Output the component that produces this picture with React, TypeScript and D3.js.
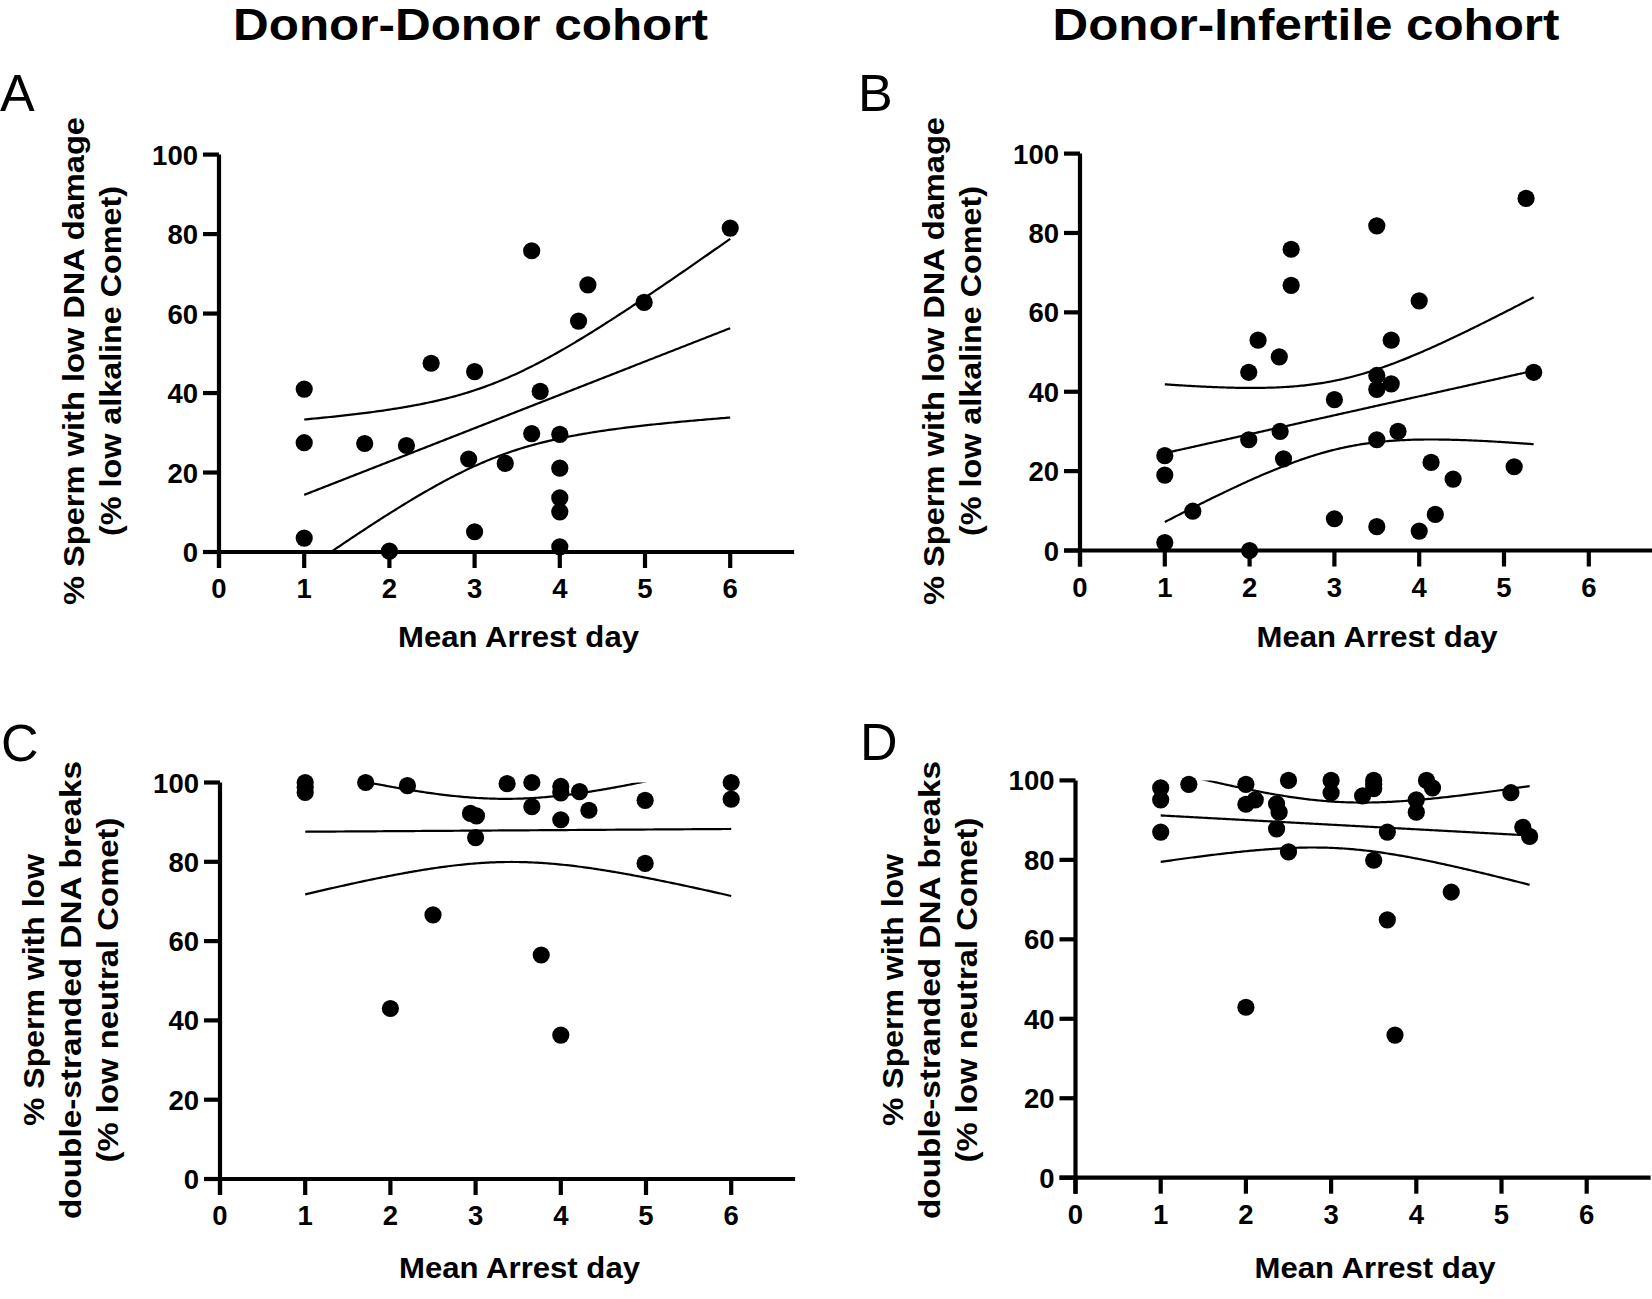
import React from 'react';
import * as d3 from 'd3';

// ---------- data ----------
const xTicks = [0, 1, 2, 3, 4, 5, 6];
const yTicks = [0, 20, 40, 60, 80, 100];
const xDomain = [0, 6.75];
const yDomain = [0, 100];

const cohortTitles = ['Donor-Donor cohort', 'Donor-Infertile cohort'];
const panelLetters = ['A', 'B', 'C', 'D'];
const xAxisTitle = 'Mean Arrest day';
const alkalineLabel = ['% Sperm with low DNA damage', '(% low alkaline Comet)'];
const neutralLabel = ['% Sperm with low', 'double-stranded DNA breaks', '(% low neutral Comet)'];

const aX = [1, 1, 1, 1.71, 2, 2.2, 2.49, 2.93, 3, 3, 3.36, 3.67, 3.67, 3.77, 4, 4, 4, 4, 4, 4.22, 4.33, 4.99, 6];
const aY = [41, 27.5, 3.5, 27.3, 0.2, 26.8, 47.5, 23.4, 45.4, 5.1, 22.3, 75.8, 29.8, 40.4, 29.6, 21.1, 13.6, 10.1, 1.3, 58.1, 67.2, 62.8, 81.5];

const bX = [1, 1, 1, 1.33, 1.99, 1.99, 2, 2.1, 2.35, 2.36, 2.4, 2.49, 2.49, 3, 3, 3.5, 3.5, 3.5, 3.5, 3.5, 3.67, 3.67, 3.75, 4, 4, 4.14, 4.19, 4.4, 5.12, 5.26, 5.35];
const bY = [23.9, 19, 2, 9.9, 27.9, 44.9, 0, 53, 48.8, 30, 23.1, 75.9, 66.8, 38, 8, 81.8, 44.1, 40.6, 27.9, 6, 53, 42, 30, 62.9, 4.9, 22.2, 9.1, 18, 21.1, 88.7, 44.9];

const cX = [1, 1, 1, 1.71, 2, 2.2, 2.5, 2.94, 3, 3.01, 3.37, 3.66, 3.66, 3.77, 4, 4, 4, 4, 4.22, 4.33, 4.99, 4.99, 6, 6];
const cY = [100, 98.8, 97.5, 100, 43, 99.2, 66.6, 92.2, 86.1, 91.6, 99.7, 100, 93.9, 56.5, 99, 97.4, 90.6, 36.3, 97.7, 93, 95.5, 79.6, 100, 95.8];

const dX = [1, 1, 1, 1.33, 2, 2, 2, 2.11, 2.36, 2.39, 2.36, 2.5, 2.5, 3, 3, 3.37, 3.5, 3.5, 3.5, 3.5, 3.66, 3.66, 3.75, 4, 4, 4.12, 4.19, 4.41, 5.11, 5.25, 5.33];
const dY = [98.1, 95.1, 87, 99, 99, 94, 42.9, 95.1, 94.1, 92, 87.8, 100, 82, 100, 96.9, 96.1, 100, 99, 97.9, 79.9, 87, 64.9, 35.9, 95.1, 92, 100, 98.1, 71.9, 96.9, 88.2, 85.9];

// ---------- stats ----------
function t975(df: number) {
  const z = 1.959964;
  const z3 = z ** 3, z5 = z ** 5, z7 = z ** 7, z9 = z ** 9;
  const g1 = (z3 + z) / 4;
  const g2 = (5 * z5 + 16 * z3 + 3 * z) / 96;
  const g3 = (3 * z7 + 19 * z5 + 17 * z3 - 15 * z) / 384;
  const g4 = (79 * z9 + 776 * z7 + 1482 * z5 - 1920 * z3 - 945 * z) / 92160;
  return z + g1 / df + g2 / df ** 2 + g3 / df ** 3 + g4 / df ** 4;
}

function fitBand(xs: number[], ys: number[]) {
  const n = xs.length;
  const mx = d3.mean(xs) as number;
  const my = d3.mean(ys) as number;
  let sxx = 0, sxy = 0;
  xs.forEach((x, i) => { sxx += (x - mx) ** 2; sxy += (x - mx) * (ys[i] - my); });
  const b = sxy / sxx;
  const a = my - b * mx;
  let sse = 0;
  xs.forEach((x, i) => { sse += (ys[i] - a - b * x) ** 2; });
  const s = Math.sqrt(sse / (n - 2));
  const t = t975(n - 2);
  const [lo, hi] = d3.extent(xs) as [number, number];
  return d3.range(0, 201).map((i) => {
    const x = lo + ((hi - lo) * i) / 200;
    const yh = a + b * x;
    const h = t * s * Math.sqrt(1 / n + (x - mx) ** 2 / sxx);
    return { x, yh, lower: yh - h, upper: yh + h };
  });
}

// ---------- layout ----------
const FONT = "'Liberation Sans', Arial, Helvetica, sans-serif";

type PanelCfg = {
  id: string;
  letter: string;
  letterX: number;
  letterY: number;
  xs: number[];
  ys: number[];
  x0: number;
  x1: number;
  y0: number;
  y1: number;
  yLabel: string[];
  yLabelX: number[];
  yLabelLen: number[];
  yLabelCY: number;
  xLabelCX: number;
  xLabelY: number;
};

const panels: PanelCfg[] = [
  {
    id: 'A', letter: panelLetters[0], letterX: 0, letterY: 111, xs: aX, ys: aY,
    x0: 219, x1: 219 + 6.75 * 85.2, y0: 552, y1: 154.6,
    yLabel: alkalineLabel, yLabelX: [84, 121], yLabelLen: [488, 350], yLabelCY: 361,
    xLabelCX: 518.5, xLabelY: 647,
  },
  {
    id: 'B', letter: panelLetters[1], letterX: 858, letterY: 111, xs: bX, ys: bY,
    x0: 1080, x1: 1080 + 6.75 * 84.8, y0: 550.5, y1: 153.6,
    yLabel: alkalineLabel, yLabelX: [944, 981], yLabelLen: [488, 350], yLabelCY: 361,
    xLabelCX: 1377, xLabelY: 647,
  },
  {
    id: 'C', letter: panelLetters[2], letterX: 1, letterY: 761, xs: cX, ys: cY,
    x0: 220, x1: 220 + 6.75 * 85.2, y0: 1179, y1: 782.5,
    yLabel: neutralLabel, yLabelX: [44, 81, 118], yLabelLen: [272, 458, 345], yLabelCY: 990,
    xLabelCX: 519.5, xLabelY: 1278,
  },
  {
    id: 'D', letter: panelLetters[3], letterX: 860, letterY: 760, xs: dX, ys: dY,
    x0: 1075.5, x1: 1075.5 + 6.75 * 85.2, y0: 1177.7, y1: 780.4,
    yLabel: neutralLabel, yLabelX: [903, 940, 977], yLabelLen: [272, 458, 345], yLabelCY: 990,
    xLabelCX: 1375, xLabelY: 1278,
  },
];

const TICK = 16;
const AXIS_W = 4.2;
const DIGIT_W = 15.3;

function Panel({ p }: { p: PanelCfg }) {
  const x = d3.scaleLinear().domain(xDomain).range([p.x0, p.x1]);
  const y = d3.scaleLinear().domain(yDomain).range([p.y0, p.y1]);
  const band = fitBand(p.xs, p.ys);
  const mk = (key: 'yh' | 'lower' | 'upper') =>
    d3.line<any>().x((d) => x(d.x)).y((d) => y(d[key]))(band) || '';
  const clipId = `clip-${p.id}`;
  return (
    <g>
      <text x={p.letterX} y={p.letterY} fontFamily={FONT} fontSize={52} fill="#000">
        {p.letter}
      </text>
      <defs>
        <clipPath id={clipId}>
          <rect x={p.x0} y={p.y1} width={p.x1 - p.x0} height={p.y0 - p.y1} />
        </clipPath>
      </defs>
      {/* fit lines */}
      <g clipPath={`url(#${clipId})`} fill="none" stroke="#000" strokeWidth={2.2}>
        <path d={mk('yh')} />
        <path d={mk('lower')} />
        <path d={mk('upper')} />
      </g>
      {/* axes */}
      <g stroke="#000" strokeWidth={AXIS_W}>
        <line x1={p.x0} x2={p.x0} y1={p.y1} y2={p.y0 + TICK} />
        <line x1={p.x0 - TICK} x2={p.x1} y1={p.y0} y2={p.y0} />
        {yTicks.map((t) => (
          <line key={`yt${t}`} x1={p.x0 - TICK} x2={p.x0} y1={y(t)} y2={y(t)} />
        ))}
        {xTicks.map((t) => (
          <line key={`xt${t}`} x1={x(t)} x2={x(t)} y1={p.y0} y2={p.y0 + TICK} />
        ))}
      </g>
      {/* tick labels */}
      <g fontFamily={FONT} fontWeight="bold" fontSize={28} fill="#000">
        {yTicks.map((t) => (
          <text key={`yl${t}`} x={p.x0 - 21} y={y(t)} dy="0.36em" textAnchor="end"
            textLength={String(t).length * DIGIT_W} lengthAdjust="spacingAndGlyphs">
            {t}
          </text>
        ))}
        {xTicks.map((t) => (
          <text key={`xl${t}`} x={x(t)} y={p.y0 + 46} textAnchor="middle"
            textLength={String(t).length * DIGIT_W} lengthAdjust="spacingAndGlyphs">
            {t}
          </text>
        ))}
      </g>
      {/* points */}
      <g fill="#000">
        {p.xs.map((xv, i) => (
          <circle key={i} cx={x(xv)} cy={y(p.ys[i])} r={8.6} />
        ))}
      </g>
      {/* axis titles */}
      <text
        x={p.xLabelCX}
        y={p.xLabelY}
        textAnchor="middle"
        fontFamily={FONT}
        fontWeight="bold"
        fontSize={30}
        textLength={241}
        lengthAdjust="spacingAndGlyphs"
      >
        {xAxisTitle}
      </text>
      {p.yLabel.map((line, i) => (
        <text
          key={i}
          transform={`translate(${p.yLabelX[i]},${p.yLabelCY}) rotate(-90)`}
          textAnchor="middle"
          fontFamily={FONT}
          fontWeight="bold"
          fontSize={30}
          textLength={p.yLabelLen[i]}
          lengthAdjust="spacingAndGlyphs"
        >
          {line}
        </text>
      ))}
    </g>
  );
}

export default function App() {
  return (
    <svg
      width={1652}
      height={1299}
      viewBox="0 0 1652 1299"
      style={{ position: 'absolute', left: 0, top: 0, background: '#fff' }}
    >
      <rect x={0} y={0} width={1652} height={1299} fill="#fff" />
      <text x={470.5} y={40} textAnchor="middle" fontFamily={FONT} fontWeight="bold" fontSize={44}
        textLength={475} lengthAdjust="spacingAndGlyphs">
        {cohortTitles[0]}
      </text>
      <text x={1306} y={40} textAnchor="middle" fontFamily={FONT} fontWeight="bold" fontSize={44}
        textLength={507} lengthAdjust="spacingAndGlyphs">
        {cohortTitles[1]}
      </text>
      {panels.map((p) => (
        <Panel key={p.id} p={p} />
      ))}
    </svg>
  );
}
